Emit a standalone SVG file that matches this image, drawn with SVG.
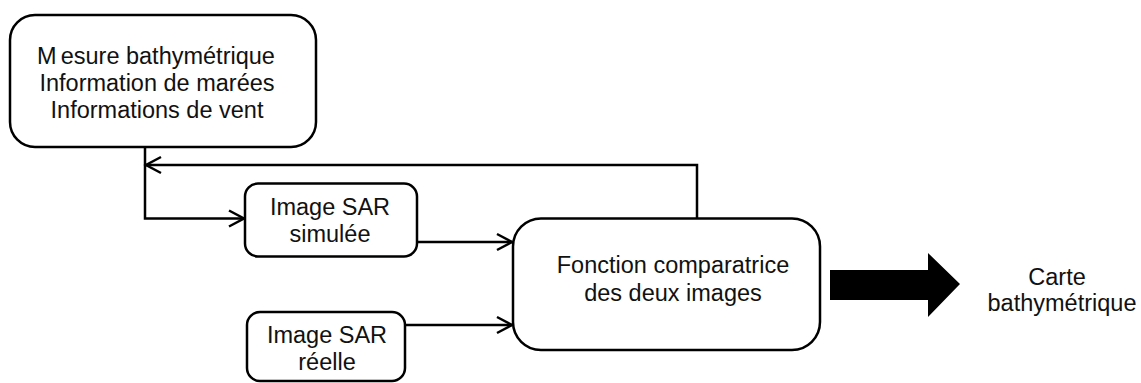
<svg xmlns="http://www.w3.org/2000/svg" width="1141" height="383" viewBox="0 0 1141 383">
  <style>
    .box { fill: #fff; stroke: #000; stroke-width: 2.5; }
    .lbl { font-family: "Liberation Sans", Arial, sans-serif; font-size: 23.5px; fill: #111; text-anchor: middle; }
    .conn { fill: none; stroke: #000; stroke-width: 2.5; }
  </style>
  <defs>
    <marker id="arr" markerUnits="userSpaceOnUse" markerWidth="20" markerHeight="20" viewBox="-17 -10 20 20" refX="0" refY="0" orient="auto">
      <path d="M -15 -8 L 0 0 L -15 8" fill="none" stroke="#000" stroke-width="2.5"/>
    </marker>
  </defs>
  <g id="connectors">
    <path class="conn" d="M 145 147 L 145 218.5 L 244 218.5" marker-end="url(#arr)"/>
    <path class="conn" d="M 697 218 L 697 165 L 146 165" marker-end="url(#arr)"/>
    <path class="conn" d="M 417 242 L 512 242" marker-end="url(#arr)"/>
    <path class="conn" d="M 405 325 L 512 325" marker-end="url(#arr)"/>
    <path d="M 830 270 L 928 270 L 928 253 L 960 284 L 928 317 L 928 300 L 830 300 Z" fill="#000"/>
  </g>
  <g id="node-mesure">
    <rect class="box" x="10" y="15" width="306" height="132" rx="25" ry="25"/>
    <text class="lbl" x="156" y="64">M<tspan dx="4">esure bathymétrique</tspan></text>
    <text class="lbl" x="157" y="91">Information de marées</text>
    <text class="lbl" x="157" y="118">Informations de vent</text>
  </g>
  <g id="node-simulee">
    <rect class="box" x="245" y="183.5" width="172" height="73" rx="13" ry="13"/>
    <text class="lbl" x="330" y="215">Image SAR</text>
    <text class="lbl" x="330" y="242">simulée</text>
  </g>
  <g id="node-reelle">
    <rect class="box" x="247" y="312" width="158" height="69" rx="13" ry="13"/>
    <text class="lbl" x="327" y="343">Image SAR</text>
    <text class="lbl" x="327" y="370">réelle</text>
  </g>
  <g id="node-comparatrice">
    <rect class="box" x="513" y="218.5" width="307" height="131.5" rx="28" ry="28"/>
    <text class="lbl" x="673" y="273">Fonction comparatrice</text>
    <text class="lbl" x="673" y="301">des deux images</text>
  </g>
  <g id="node-carte">
    <text class="lbl" x="1057" y="285">Carte</text>
    <text class="lbl" x="1062" y="311">bathymétrique</text>
  </g>
</svg>
